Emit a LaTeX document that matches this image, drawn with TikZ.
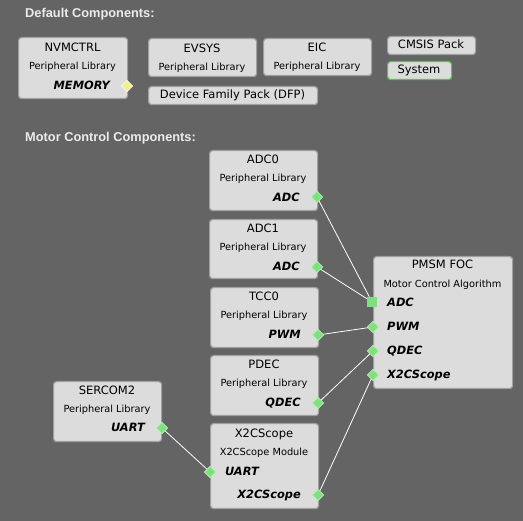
\documentclass[tikz,border=0pt]{standalone}
\usepackage{fontspec}
\setmainfont{DejaVu Sans}[ItalicFont={DejaVu Sans Oblique},BoldFont={DejaVu Sans Bold},BoldItalicFont={DejaVu Sans Bold Oblique}]
\newfontfamily\headfont{Liberation Sans}
\usetikzlibrary{shapes.geometric}
\definecolor{canvas}{HTML}{646464}
\definecolor{boxfill}{HTML}{DCDCDC}
\definecolor{boxline}{HTML}{A0A0A0}
\definecolor{pingreen}{HTML}{7EE07E}
\definecolor{pinedge}{HTML}{B4F2B4}
\definecolor{pinyellow}{HTML}{F2F08E}
\definecolor{okgreen}{HTML}{4CC84C}

\begin{document}
\begin{tikzpicture}[x=1pt,y=-1pt,
    box/.style={draw=boxline,fill=boxfill,line width=1.2pt,rounded corners=3pt,anchor=north west,inner sep=0pt},
    ttl/.style={font=\fontsize{11.5}{13}\selectfont,anchor=mid,inner sep=0pt,text=black},
    sub/.style={font=\fontsize{9.8}{12}\selectfont,anchor=mid,inner sep=0pt,text=black},
    port/.style={font=\fontsize{11.4}{13}\selectfont\bfseries\itshape,inner sep=0pt,text=black},
    head/.style={font=\headfont\fontsize{12.8}{15}\selectfont\bfseries,text=white!92!black,anchor=west,inner sep=0pt},
    pin/.style={diamond,fill=pingreen,draw=pinedge,line width=0.6pt,inner sep=0pt,minimum size=11.5pt},
    wire/.style={draw=white,line width=0.8pt}]
  \fill[canvas] (0,0) rectangle (523,521);

  % default components
  \node[head] (hdef) at (25,14) {Default Components:};
  \node[box,minimum width=109pt,minimum height=61pt] (nvmctrl) at (18,37) {};
  \node[ttl] at (72.5,49) {NVMCTRL};
  \node[sub] at (72.5,67) {Peripheral Library};
  \node[port,anchor=mid east] at (110,87) {MEMORY};
  \node[pin,fill=pinyellow,draw=white!70!pinyellow] (nvmp) at (127,86) {};

  \node[box,minimum width=108pt,minimum height=38pt] (evsys) at (148,38) {};
  \node[ttl] at (202,50) {EVSYS};
  \node[sub] at (202,68) {Peripheral Library};
  \node[box,minimum width=108pt,minimum height=37pt] (eic) at (263,38) {};
  \node[ttl] at (317,49) {EIC};
  \node[sub] at (317,67) {Peripheral Library};
  \node[box,minimum width=88pt,minimum height=18pt] (cmsis) at (387,36) {};
  \node[ttl] at (431,46) {CMSIS Pack};
  \node[box,draw=okgreen,minimum width=64pt,minimum height=18pt] (system) at (387,61) {};
  \node[ttl] at (419,71) {System};
  \node[box,minimum width=169pt,minimum height=18pt] (dfp) at (148,86) {};
  \node[ttl] at (232.5,96) {Device Family Pack (DFP)};

  % motor control components
  \node[head] (hmc) at (25,138) {Motor Control Components:};
  \node[box,minimum width=108pt,minimum height=60pt] (adc0) at (209,150) {};
  \node[ttl] at (263,161) {ADC0};
  \node[sub] at (263,179) {Peripheral Library};
  \node[port,anchor=mid east] at (300,199) {ADC};
  \node[pin] (adc0p) at (317,197) {};

  \node[box,minimum width=108pt,minimum height=59pt] (adc1) at (209,219) {};
  \node[ttl] at (263,230) {ADC1};
  \node[sub] at (263,248) {Peripheral Library};
  \node[port,anchor=mid east] at (300,268) {ADC};
  \node[pin] (adc1p) at (317,267) {};

  \node[box,minimum width=108pt,minimum height=60pt] (tcc0) at (210,287) {};
  \node[ttl] at (264,298) {TCC0};
  \node[sub] at (264,316) {Peripheral Library};
  \node[port,anchor=mid east] at (301,336) {PWM};
  \node[pin] (tcc0p) at (318,335) {};

  \node[box,minimum width=108pt,minimum height=60pt] (pdec) at (210,355) {};
  \node[ttl] at (264,366) {PDEC};
  \node[sub] at (264,384) {Peripheral Library};
  \node[port,anchor=mid east] at (301,404) {QDEC};
  \node[pin] (pdecp) at (318,403) {};

  \node[box,minimum width=108pt,minimum height=85pt] (x2cscope) at (210,423) {};
  \node[ttl] at (264,435) {X2CScope};
  \node[sub] at (264,453) {X2CScope Module};
  \node[port,anchor=mid west] at (225,473) {UART};
  \node[port,anchor=mid east] at (301,496) {X2CScope};
  \node[pin] (x2cu) at (210,472) {};
  \node[pin] (x2cs) at (318,495) {};

  \node[box,minimum width=108pt,minimum height=60pt] (sercom2) at (53,381) {};
  \node[ttl] at (107,392) {SERCOM2};
  \node[sub] at (107,410) {Peripheral Library};
  \node[port,anchor=mid east] at (145,429) {UART};
  \node[pin] (sercomp) at (162,428) {};

  \node[box,minimum width=139pt,minimum height=132pt] (pmsm) at (373,256) {};
  \node[ttl] at (442.5,266) {PMSM FOC};
  \node[sub] at (442.5,285) {Motor Control Algorithm};
  \node[port,anchor=mid west] at (387,304) {ADC};
  \node[port,anchor=mid west] at (387,328) {PWM};
  \node[port,anchor=mid west] at (387,352) {QDEC};
  \node[port,anchor=mid west] at (387,376) {X2CScope};
  \node[rectangle,fill=pingreen,inner sep=0pt,minimum size=10pt] (pmsma) at (372,302) {};
  \node[pin] (pmsmp) at (373,327) {};
  \node[pin] (pmsmq) at (373,351) {};
  \node[pin] (pmsmx) at (373,375) {};

  \path[wire]
    (adc0p) edge (pmsma)
    (adc1p) edge (pmsma)
    (tcc0p) edge (pmsmp)
    (pdecp) edge (pmsmq)
    (x2cs) edge (pmsmx)
    (sercomp) edge (x2cu);
\end{tikzpicture}
\end{document}
